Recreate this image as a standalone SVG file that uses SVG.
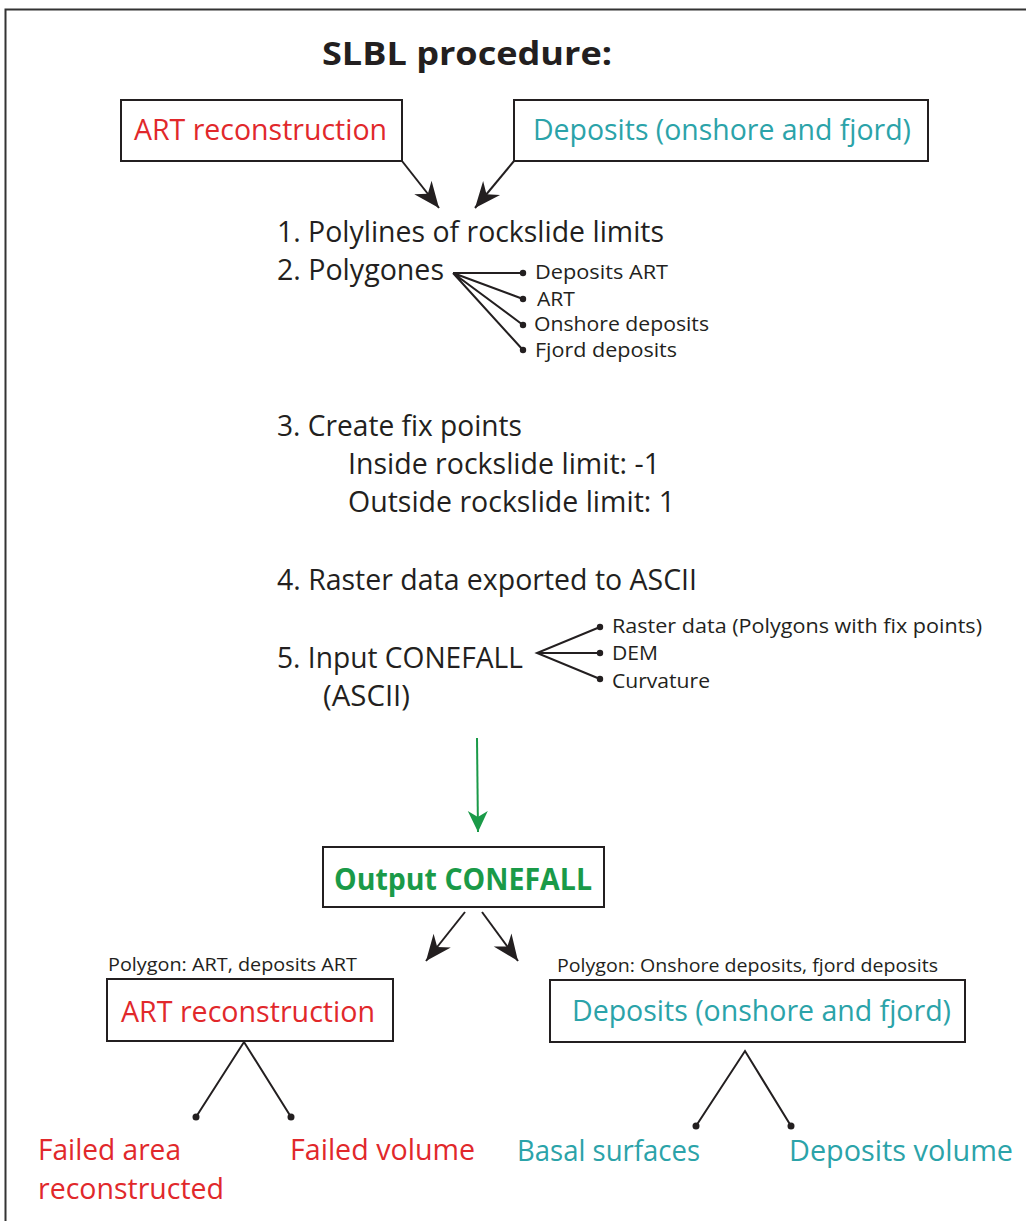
<svg xmlns="http://www.w3.org/2000/svg" width="1026" height="1221" viewBox="0 0 1026 1221">
<style>
text{font-family:"Open Sans","Liberation Sans",sans-serif;fill:#231f20}
.big{font-size:29px}
.sm{font-size:20px}
.xs{font-size:19px}
.red{fill:#e1282b;font-size:30px}
.teal{fill:#2ba3a9;font-size:30px}
.box{fill:#fff;stroke:#231f20;stroke-width:2}
.ln{fill:none;stroke:#231f20;stroke-width:2}
.dot{fill:#231f20}
</style>
<defs>
<marker id="ah" viewBox="-27 -12 29 24" refX="0" refY="0" markerWidth="29" markerHeight="24" markerUnits="userSpaceOnUse" orient="auto">
<path d="M0,0 L-26,-11 L-18,0 L-26,11 Z" fill="#231f20"/>
</marker>
<marker id="ahg" viewBox="-22 -11 24 22" refX="0" refY="0" markerWidth="24" markerHeight="22" markerUnits="userSpaceOnUse" orient="auto">
<path d="M0,0 L-21,-10 L-15,0 L-21,10 Z" fill="#1a9a48"/>
</marker>
</defs>
<rect width="1026" height="1221" fill="#fff"/>
<path d="M5.5,1221 V9.5 H1026" fill="none" stroke="#333" stroke-width="2"/>
<text x="322" y="65" font-size="33" font-weight="bold" textLength="290" lengthAdjust="spacingAndGlyphs">SLBL procedure:</text>

<g id="art-top">
<rect class="box" x="121" y="100" width="281" height="61"/>
<text class="red" x="134" y="140" textLength="253" lengthAdjust="spacingAndGlyphs">ART reconstruction</text>
</g>
<g id="dep-top">
<rect class="box" x="514" y="100" width="414" height="61"/>
<text class="teal" x="533" y="140" textLength="378" lengthAdjust="spacingAndGlyphs">Deposits (onshore and fjord)</text>
</g>

<g id="steps">
<text class="big" x="277" y="242" textLength="387" lengthAdjust="spacingAndGlyphs">1. Polylines of rockslide limits</text>
<text class="big" x="277" y="280" textLength="167" lengthAdjust="spacingAndGlyphs">2. Polygones</text>
<text class="sm" x="535" y="279" textLength="133" lengthAdjust="spacingAndGlyphs">Deposits ART</text>
<text class="sm" x="537" y="306" textLength="38" lengthAdjust="spacingAndGlyphs">ART</text>
<text class="sm" x="534" y="331" textLength="175" lengthAdjust="spacingAndGlyphs">Onshore deposits</text>
<text class="sm" x="535" y="357" textLength="142" lengthAdjust="spacingAndGlyphs">Fjord deposits</text>
<text class="big" x="277" y="436" textLength="245" lengthAdjust="spacingAndGlyphs">3. Create fix points</text>
<text class="big" x="348" y="474" textLength="312" lengthAdjust="spacingAndGlyphs">Inside rockslide limit: -1</text>
<text class="big" x="348" y="512" textLength="327" lengthAdjust="spacingAndGlyphs">Outside rockslide limit: 1</text>
<text class="big" x="277" y="590" textLength="420" lengthAdjust="spacingAndGlyphs">4. Raster data exported to ASCII</text>
<text class="big" x="277" y="668" textLength="246" lengthAdjust="spacingAndGlyphs">5. Input CONEFALL</text>
<text class="big" x="323" y="706" textLength="87" lengthAdjust="spacingAndGlyphs">(ASCII)</text>
<text class="sm" x="612" y="633" textLength="370" lengthAdjust="spacingAndGlyphs">Raster data (Polygons with fix points)</text>
<text class="sm" x="612" y="660" textLength="46" lengthAdjust="spacingAndGlyphs">DEM</text>
<text class="sm" x="612" y="688" textLength="98" lengthAdjust="spacingAndGlyphs">Curvature</text>
</g>

<g id="output">
<rect class="box" x="323" y="847" width="281" height="60"/>
<text x="334" y="890" font-size="30" font-weight="bold" style="fill:#1a9a48" textLength="258" lengthAdjust="spacingAndGlyphs">Output CONEFALL</text>
</g>

<g id="art-bottom">
<text class="xs" x="108" y="971" textLength="249" lengthAdjust="spacingAndGlyphs">Polygon: ART, deposits ART</text>
<rect class="box" x="107" y="979" width="286" height="62"/>
<text class="red" x="121" y="1022" textLength="254" lengthAdjust="spacingAndGlyphs">ART reconstruction</text>
</g>
<g id="dep-bottom">
<text class="xs" x="557" y="972" textLength="381" lengthAdjust="spacingAndGlyphs">Polygon: Onshore deposits, fjord deposits</text>
<rect class="box" x="550" y="980" width="415" height="62"/>
<text class="teal" x="572" y="1021" textLength="379" lengthAdjust="spacingAndGlyphs">Deposits (onshore and fjord)</text>
</g>

<g id="results">
<text class="red" x="38" y="1160" textLength="143" lengthAdjust="spacingAndGlyphs">Failed area</text>
<text class="red" x="38" y="1199" textLength="186" lengthAdjust="spacingAndGlyphs">reconstructed</text>
<text class="red" x="290" y="1160" textLength="185" lengthAdjust="spacingAndGlyphs">Failed volume</text>
<text class="teal" x="517" y="1161" textLength="183" lengthAdjust="spacingAndGlyphs">Basal surfaces</text>
<text class="teal" x="789" y="1161" textLength="224" lengthAdjust="spacingAndGlyphs">Deposits volume</text>
</g>

<g id="connectors">
<line class="ln" x1="402" y1="161" x2="439" y2="208" marker-end="url(#ah)"/>
<line class="ln" x1="514" y1="161" x2="475" y2="208" marker-end="url(#ah)"/>
<path class="ln" d="M453,273 L523,273 M453,273 L523,299 M453,273 L523,325 M453,273 L523,350"/>
<circle class="dot" cx="523" cy="273" r="3.2"/>
<circle class="dot" cx="523" cy="299" r="3.2"/>
<circle class="dot" cx="523" cy="325" r="3.2"/>
<circle class="dot" cx="523" cy="350" r="3.2"/>
<path class="ln" d="M600,627 L537,653 L600,679 M537,653 L600,653"/>
<circle class="dot" cx="600" cy="627" r="3.2"/>
<circle class="dot" cx="600" cy="653" r="3.2"/>
<circle class="dot" cx="600" cy="679" r="3.2"/>
<line x1="477" y1="738" x2="478" y2="832" stroke="#1a9a48" stroke-width="2" marker-end="url(#ahg)"/>
<line class="ln" x1="465" y1="912" x2="426" y2="961" marker-end="url(#ah)"/>
<line class="ln" x1="482" y1="912" x2="518" y2="961" marker-end="url(#ah)"/>
<path class="ln" d="M196,1117 L244,1042 L291,1117"/>
<circle class="dot" cx="196" cy="1117" r="3.5"/>
<circle class="dot" cx="291" cy="1117" r="3.5"/>
<path class="ln" d="M696,1126 L745,1051 L791,1126"/>
<circle class="dot" cx="696" cy="1126" r="3.5"/>
<circle class="dot" cx="791" cy="1126" r="3.5"/>
</g>
</svg>
